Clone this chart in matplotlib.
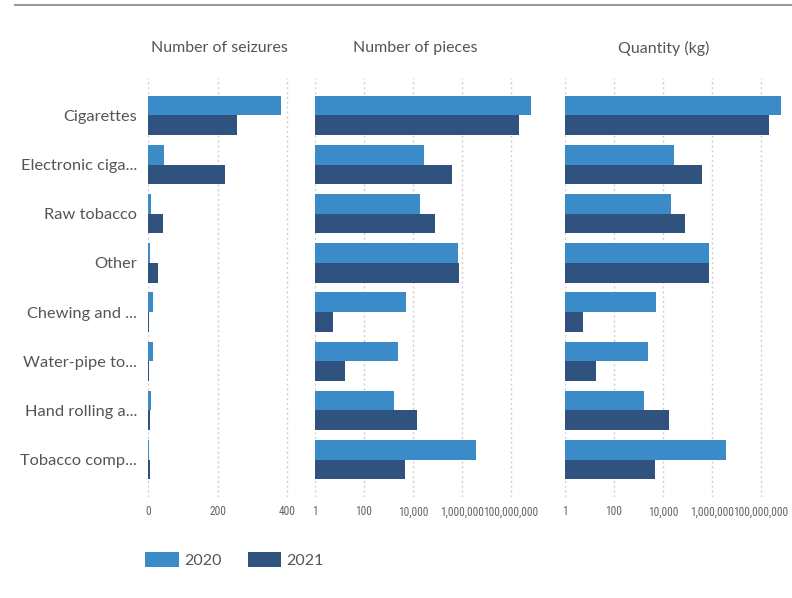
import matplotlib
matplotlib.use("Agg")
import matplotlib.pyplot as plt
from matplotlib.patches import Patch
from matplotlib.lines import Line2D
from matplotlib import font_manager
import numpy as np

plt.rcParams['font.family'] = ['Lato', 'DejaVu Sans']
_names = {f.name for f in font_manager.fontManager.ttflist}
_narrow = [n for n in ['Liberation Sans Narrow', 'DejaVu Sans Condensed',
                       'Roboto Condensed', 'Open Sans Condensed'] if n in _names]
if _narrow:
    TICKFAM, TICKSIZE = [_narrow[0], 'Lato'], 8.3
else:
    TICKFAM, TICKSIZE = ['Lato'], 7.2

categories = ["Cigarettes", "Electronic ciga...", "Raw tobacco", "Other",
              "Chewing and ...", "Water-pipe to...", "Hand rolling a...", "Tobacco comp..."]

seizures_2020 = [383, 46, 8, 4, 14, 14, 9, 2]
seizures_2021 = [254, 220, 43, 29, 3, 3, 6, 6]

pieces_2020 = [6.8e8, 2.9e4, 2.0e4, 7.1e5, 5.3e3, 2.5e3, 1.7e3, 3.8e6]
pieces_2021 = [2.2e8, 3.8e5, 8.1e4, 7.8e5, 5.6, 17, 1.5e4, 4.9e3]

kg_2020 = [6.7e8, 2.9e4, 2.2e4, 7.8e5, 5.3e3, 2.5e3, 1.7e3, 3.8e6]
kg_2021 = [2.2e8, 3.8e5, 8.1e4, 7.8e5, 5.6, 19, 1.7e4, 4.9e3]

titles = ["Number of seizures", "Number of pieces", "Quantity (kg)"]
lin_ticks = [0, 200, 400]
lin_labels = ["0", "200", "400"]
log_ticks = [1, 100, 1e4, 1e6, 1e8]
log_labels = ["1", "100", "10,000", "1,000,000", "100,000,000"]
years = ["2020", "2021"]

C20 = "#3b8bc9"
C21 = "#2f527e"
GRID = "#cfcfcf"
TXT = "#555555"

W, H = 792, 598
fig = plt.figure(figsize=(W / 100, H / 100), dpi=100)

def add_ax(x0, x1, y0, y1):
    return fig.add_axes([x0 / W, 1 - y1 / H, (x1 - x0) / W, (y1 - y0) / H])

# top rule
fig.add_artist(Line2D([15 / W, 1], [1 - 5 / H, 1 - 5 / H], color="#9a9a9a", lw=1.5))

y = np.arange(len(categories))
h = 0.4
panels = [
    (148.3, 290, seizures_2020, seizures_2021, False),
    (315, 535.5, pieces_2020, pieces_2021, True),
    (565, 785.5, kg_2020, kg_2021, True),
]
title_x = [219.5, 415, 664]

for i, (x0, x1, d20, d21, islog) in enumerate(panels):
    ax = add_ax(x0, x1, 78, 497)
    if islog:
        ax.set_xscale("log")
        ax.barh(y - h / 2, np.array(d20) - 1, left=1, height=h, color=C20, zorder=3)
        ax.barh(y + h / 2, np.array(d21) - 1, left=1, height=h, color=C21, zorder=3)
        ax.set_xlim(1, 1e9)
        ax.set_xticks(log_ticks)
        ax.set_xticklabels(log_labels, family=TICKFAM)
        ax.xaxis.set_minor_locator(matplotlib.ticker.NullLocator())
    else:
        ax.barh(y - h / 2, d20, height=h, color=C20, zorder=3)
        ax.barh(y + h / 2, d21, height=h, color=C21, zorder=3)
        ax.set_xlim(0, 408)
        ax.set_xticks(lin_ticks)
        ax.set_xticklabels(lin_labels, family=TICKFAM)
    ax.set_ylim(len(categories) - 0.24, -0.76)
    ax.grid(axis="x", color=GRID, linestyle=(0, (1.5, 2)), lw=1, zorder=0)
    for s in ax.spines.values():
        s.set_visible(False)
    ax.tick_params(axis="x", length=0, pad=6, labelsize=TICKSIZE, labelcolor="#666666")
    if i == 0:
        ax.set_yticks(y)
        ax.set_yticklabels(categories, fontsize=11.8, color=TXT)
        ax.tick_params(axis="y", length=0, pad=8)
    else:
        ax.set_yticks([])
    fig.text(title_x[i] / W, 1 - 48 / H, titles[i], ha="center", va="center",
             fontsize=11.5, color=TXT)

handles = [Patch(facecolor=C20), Patch(facecolor=C21)]
fig.legend(handles, years, loc="center left", bbox_to_anchor=(131 / W, 1 - 560 / H),
           ncol=2, frameon=False, fontsize=11.5, labelcolor=TXT,
           handlelength=2.1, handleheight=1.1, columnspacing=1.6, handletextpad=0.35)

fig.savefig("out.png", dpi=100)
